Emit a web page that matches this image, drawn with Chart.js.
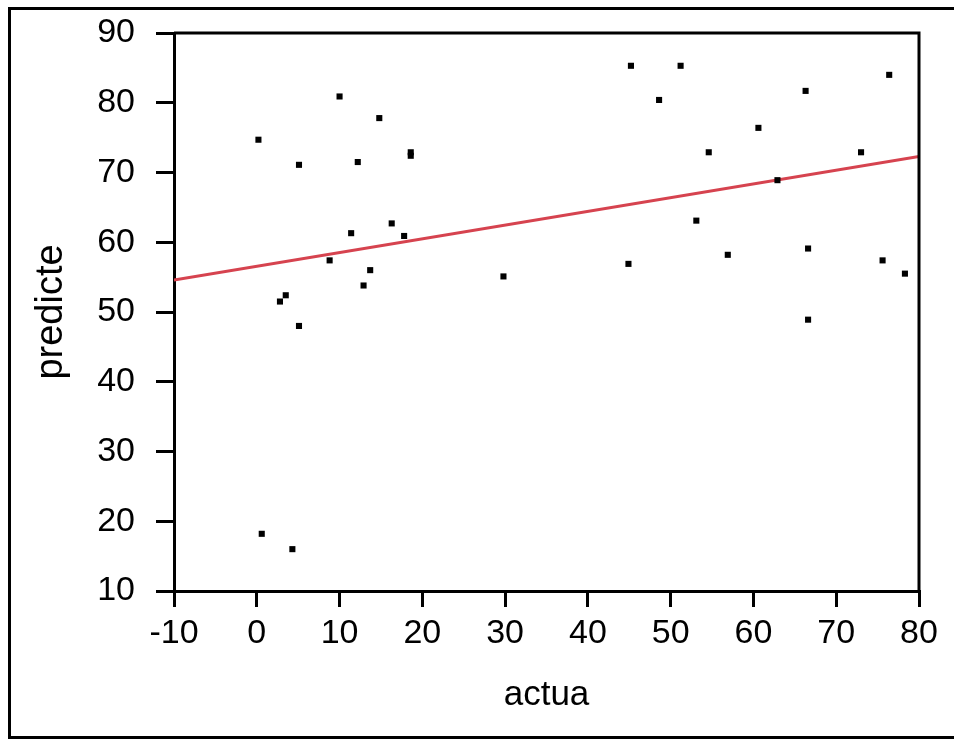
<!DOCTYPE html>
<html>
<head>
<meta charset="utf-8">
<script src="https://cdn.jsdelivr.net/npm/chart.js@4/dist/chart.umd.min.js"></script>
<style>
  html, body { margin: 0; padding: 0; background: #fff; }
  canvas { display: block; }
</style>
</head>
<body>
<canvas id="chart" width="954" height="741"></canvas>
<script>
const actual = [10.0, 14.8, 0.2, 18.6, 18.6, 5.1, 12.2, 16.3, 11.4, 17.8,
  8.8, 13.7, 12.9, 3.5, 2.8, 5.1, 0.6, 4.3, 29.8,
  45.2, 51.2, 76.4, 48.6, 66.3, 60.6, 54.6, 73.0, 62.9, 53.1,
  56.9, 66.6, 44.9, 75.6, 78.3, 66.6];
const predicted = [80.9, 77.8, 74.7, 72.9, 72.4, 71.1, 71.5, 62.7, 61.3, 60.9,
  57.4, 56.0, 53.8, 52.4, 51.5, 48.0, 18.2, 16.0, 55.1,
  85.3, 85.3, 84.0, 80.4, 81.7, 76.4, 72.9, 72.9, 68.9, 63.1,
  58.2, 59.1, 56.9, 57.4, 55.5, 48.9];

// fitted line end points
const fitX = [-10, 80];
const fitY = [54.6, 72.3];

const xTicks = [-10, 0, 10, 20, 30, 40, 50, 60, 70, 80];
const yTicks = [10, 20, 30, 40, 50, 60, 70, 80, 90];

const FONT = "'Liberation Sans', Arial, sans-serif";

const frame = {
  id: 'frame',
  afterDraw(chart) {
    const ctx = chart.ctx;
    const a = chart.chartArea;
    ctx.save();
    ctx.strokeStyle = '#000';
    ctx.lineWidth = 3;
    ctx.beginPath();
    ctx.moveTo(a.left, a.top);
    ctx.lineTo(a.right, a.top);
    ctx.lineTo(a.right, a.bottom);
    ctx.stroke();
    // outer box around the whole figure
    ctx.strokeRect(9.5, 8.5, 960, 729);
    ctx.restore();
  }
};

new Chart(document.getElementById('chart'), {
  type: 'scatter',
  data: {
    datasets: [
      {
        label: 'points',
        data: actual.map((x, i) => ({ x: x, y: predicted[i] })),
        pointStyle: 'rect',
        pointRadius: 4.3,
        pointBorderWidth: 0,
        backgroundColor: '#000',
        borderColor: '#000',
        order: 0
      },
      {
        type: 'line',
        label: 'fit',
        data: fitX.map((x, i) => ({ x: x, y: fitY[i] })),
        borderColor: '#d6434f',
        borderWidth: 3,
        pointRadius: 0,
        fill: false,
        order: 1
      }
    ]
  },
  options: {
    responsive: false,
    animation: false,
    layout: { padding: { top: 33, right: 35, left: 0, bottom: 0 } },
    plugins: { legend: { display: false }, tooltip: { enabled: false } },
    scales: {
      x: {
        type: 'linear',
        min: -10,
        max: 80,
        afterBuildTicks: s => { s.ticks = xTicks.map(v => ({ value: v })); },
        afterFit: s => { s.height = 150; },
        grid: { drawOnChartArea: false, color: '#000', lineWidth: 3, tickLength: 16 },
        border: { display: true, color: '#000', width: 3 },
        ticks: { color: '#000', font: { family: FONT, size: 34 }, padding: 6, maxRotation: 0 },
        title: { display: true, text: 'actua', color: '#000', font: { family: FONT, size: 35 }, padding: { top: 0, bottom: 25 } }
      },
      y: {
        type: 'linear',
        min: 10,
        max: 90,
        afterBuildTicks: s => { s.ticks = yTicks.map(v => ({ value: v })); },
        afterFit: s => { s.width = 174; s.paddingTop = 0; s.paddingBottom = 0; },
        grid: { drawOnChartArea: false, color: '#000', lineWidth: 3, tickLength: 18 },
        border: { display: true, color: '#000', width: 3 },
        ticks: { color: '#000', font: { family: FONT, size: 34 }, padding: 21 },
        title: { display: true, text: 'predicte', color: '#000', font: { family: FONT, size: 38 }, padding: { top: 29, bottom: 0 } }
      }
    }
  },
  plugins: [frame]
});
</script>
</body>
</html>
